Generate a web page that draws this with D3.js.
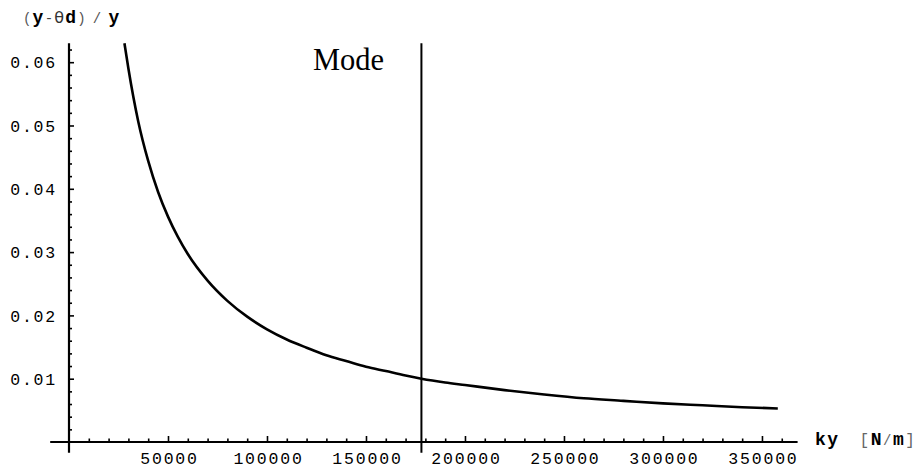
<!DOCTYPE html>
<html><head><meta charset="utf-8">
<script src="https://cdn.jsdelivr.net/npm/d3@7"></script>
<style>
body{margin:0;background:#fff;}
svg{display:block;}
.tick text{font-family:"Liberation Mono","DejaVu Sans Mono",monospace;}
</style></head>
<body>
<script>
// Data
const ky = [28000,30000,35000,40000,45000,50000,55000,60000,70000,80000,90000,100000,110000,120000,130000,140000,150000,160000,170000,178000,190000,200000,220000,240000,260000,280000,300000,320000,340000,358000];
const ratio = [0.0630,0.0590,0.0506,0.0444,0.0395,0.0356,0.0324,0.0297,0.0255,0.0223,0.0198,0.0178,0.0162,0.0149,0.0137,0.0128,0.0119,0.0112,0.0105,0.0100,0.0094,0.0090,0.0082,0.0075,0.0069,0.0065,0.0061,0.0058,0.0055,0.0053];
const modeKy = 178000;
const xMajor = [50000,100000,150000,200000,250000,300000,350000];
const yMajor = [0.01,0.02,0.03,0.04,0.05,0.06];

const W = 916, H = 473;
const svg = d3.select("body").append("svg").attr("width", W).attr("height", H);

const x = d3.scaleLinear().domain([0, 368000]).range([69, 797.6]);
const y = d3.scaleLinear().domain([0, 0.063]).range([442, 43.2]);

const xMinor = d3.range(10000, 370000, 10000).filter(v => v % 50000 !== 0);
const yMinor = d3.range(0.002, 0.0631, 0.002).filter(v => Math.abs(v*100 - Math.round(v*100)) > 1e-6);

// axis lines
svg.append("line").attr("x1", x(-9500)).attr("x2", x(368000)).attr("y1", y(0)).attr("y2", y(0))
  .attr("stroke", "#000").attr("stroke-width", 2.2);
svg.append("line").attr("x1", x(0)).attr("x2", x(0)).attr("y1", y(-0.0017)).attr("y2", y(0.063))
  .attr("stroke", "#000").attr("stroke-width", 2.2);

// x axis ticks
const xAxis = d3.axisTop(x).tickValues(xMajor).tickSize(6).tickFormat(d3.format("d"));
const gx = svg.append("g").attr("transform", `translate(0,${y(0)})`).call(xAxis);
gx.select(".domain").remove();
gx.selectAll(".tick line").attr("stroke", "#000").attr("stroke-width", 1.6);
gx.selectAll(".tick text").attr("y", 22).attr("dy", 0).attr("font-size", 16.5)
  .attr("letter-spacing", 1.8).attr("dx", 1).attr("fill", "#000");
const gxm = svg.append("g").attr("transform", `translate(0,${y(0)})`)
  .call(d3.axisTop(x).tickValues(xMinor).tickSize(3.5).tickFormat(""));
gxm.select(".domain").remove();
gxm.selectAll(".tick line").attr("stroke", "#000").attr("stroke-width", 1.6);

// y axis ticks
const yAxis = d3.axisRight(y).tickValues(yMajor).tickSize(5).tickFormat(d3.format(".2f"));
const gy = svg.append("g").attr("transform", `translate(${x(0)},0)`).call(yAxis);
gy.select(".domain").remove();
gy.selectAll(".tick line").attr("stroke", "#000").attr("stroke-width", 1.6);
gy.selectAll(".tick text").attr("x", -12).attr("text-anchor", "end").attr("font-size", 16.5)
  .attr("letter-spacing", 1.8).attr("dy", "0.35em").attr("fill", "#000");
const gym = svg.append("g").attr("transform", `translate(${x(0)},0)`)
  .call(d3.axisRight(y).tickValues(yMinor).tickSize(3).tickFormat(""));
gym.select(".domain").remove();
gym.selectAll(".tick line").attr("stroke", "#000").attr("stroke-width", 1.6);

// mode line
svg.append("line").attr("x1", x(modeKy)).attr("x2", x(modeKy)).attr("y1", y(-0.0017)).attr("y2", y(0.063))
  .attr("stroke", "#000").attr("stroke-width", 2);
svg.append("text").attr("x", 313).attr("y", 70).attr("font-family", "Liberation Serif, Times New Roman, serif")
  .attr("font-size", 30.5).attr("fill", "#000").text("Mode");

// curve
const pts = ky.map((k, i) => [k, ratio[i]]);
svg.append("path").datum(pts)
  .attr("d", d3.line().x(d => x(d[0])).y(d => y(d[1])).curve(d3.curveMonotoneX))
  .attr("fill", "none").attr("stroke", "#000").attr("stroke-width", 2.6);

// y label
const mono = "Liberation Mono, DejaVu Sans Mono, monospace";
const yl = svg.append("text").attr("x", 23).attr("y", 23).attr("font-family", mono).attr("font-size", 18)
  .attr("letter-spacing", 1.2).attr("fill", "#000");
yl.append("tspan").attr("font-size", 14).attr("fill", "#555").text("(");
yl.append("tspan").attr("font-weight", "bold").text("y");
yl.append("tspan").attr("font-size", 14).attr("fill", "#444").text("-");
yl.append("tspan").attr("font-family", "DejaVu Sans, sans-serif").attr("font-size", 16).attr("fill", "#333").text("θ");
yl.append("tspan").attr("font-weight", "bold").text("d");
yl.append("tspan").attr("font-size", 14).attr("fill", "#555").text(")");
yl.append("tspan").attr("font-size", 14).attr("fill", "#555").attr("dx", 6).text("/");
yl.append("tspan").attr("font-weight", "bold").attr("dx", 6).text("y");

// x label
const xl = svg.append("text").attr("x", 815).attr("y", 445).attr("font-family", mono).attr("font-size", 18)
  .attr("letter-spacing", 1.5).attr("fill", "#000");
xl.append("tspan").attr("font-weight", "bold").text("ky");
xl.append("tspan").attr("dx", 20).attr("fill", "#666").attr("font-size", 16).text("[");
xl.append("tspan").attr("font-weight", "bold").text("N");
xl.append("tspan").attr("fill", "#666").attr("font-size", 14).text("/");
xl.append("tspan").attr("font-weight", "bold").text("m");
xl.append("tspan").attr("fill", "#666").attr("font-size", 16).text("]");
</script>
</body></html>
